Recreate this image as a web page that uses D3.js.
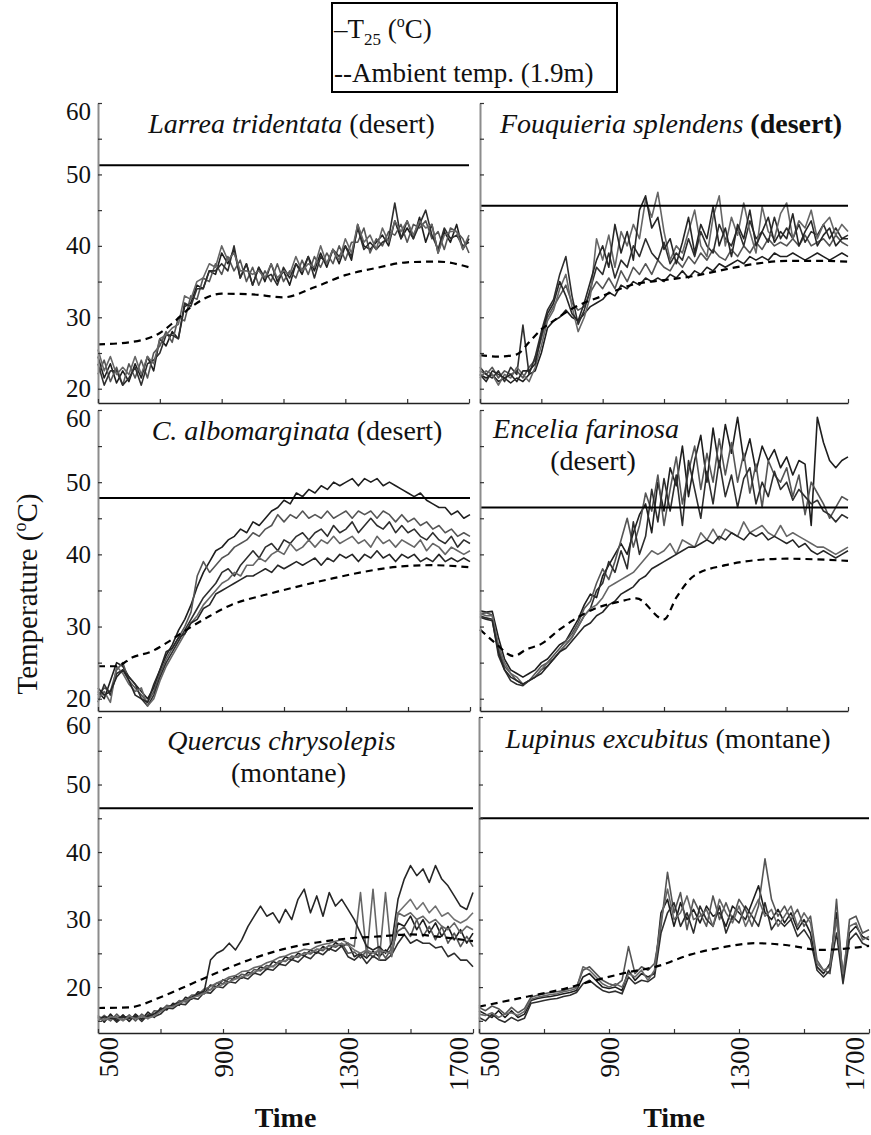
<!DOCTYPE html>
<html>
<head>
<meta charset="utf-8">
<script src="https://cdn.jsdelivr.net/npm/d3@7"></script>
<style>
  body { margin: 0; background: #fff; }
  svg { display: block; }
  text { font-family: "Liberation Serif", "DejaVu Serif", serif; fill: #111; }
</style>
</head>
<body>
<svg width="871" height="1135"></svg>
<script>
// time of day (hhmm), one reading every 20 min
var times = [500,520,540,560,580,600,620,640,660,680,
  700,720,740,760,780,800,820,840,860,880,
  900,920,940,960,980,1000,1020,1040,1060,1080,
  1100,1120,1140,1160,1180,1200,1220,1240,1260,1280,
  1300,1320,1340,1360,1380,1400,1420,1440,1460,1480,
  1500,1520,1540,1560,1580,1600,1620,1640,1660,1680,1700];

// T25 leaf temperatures, one array per leaf
var larrea = [
  [24.5,21.5,23.5,20.8,22.5,21,23.5,21.5,24.5,22.5, 27,26,28,27,31.5,32,34.5,34,36.5,36,
   39,37.5,39.5,35.5,37.5,34.5,37,35,37.5,35, 36.5,34.5,37.5,36,38.5,36.5,39,37,39.5,37.5,
   40,38,43,40,39.5,40.5,41.5,40,43.5,41, 42.5,41,44,40.5,43,39,42,40.5,43,39.5, 41],
  [22,24,21,23,20.5,23.5,21.5,24,21.5,25, 26,28,26.5,30,29.5,33,32.5,35.5,35,37.5,
   36,38.5,36.5,38,35,37,34.5,36.5,35,37.5, 35,36.5,35.5,38,36,38.5,37,39,37.5,40,
   38,40.5,40.5,42.5,39,41,40,42,41.5,43, 40.5,43,42.5,43.5,41,42,39.5,42.5,42,41, 39],
  [23.5,20.5,22.5,22.5,20.5,21.5,23,20.5,23.5,24, 25,27.5,27.5,27,32,31.5,34,34,36.5,36.5,
   37.5,36.5,40,35.5,37.5,34.5,37,35.5,36,34.5, 37,35.5,37.5,36.5,38.5,35.5,38.5,37.5,39.5,38.5,
   40,38.5,42.5,39.5,40.5,39.5,40.5,41,46,41, 43.5,41,43,45,41.5,39.5,42.5,41,41.5,40, 40.5],
  [25.5,22.5,24.5,22,23,22,24.5,22,24.5,23.5, 27,27.5,28.5,29,33,32.5,35,35.5,37.5,37,
   40,38,39,36.5,36.5,36,36.5,35.5,37.5,35.5, 36.5,36,38.5,36.5,37.5,37,40,37.5,39.5,38,
   41,39,43,40.5,41.5,39.5,42.5,40.5,43.5,42, 43.5,41.5,43.5,42.5,43,39,41.5,42,42,39.5, 41.5]
];
var fouquieria = [
  [22,21.5,22,21,21.5,20.8,21.5,21,22,22.5, 25,28.5,29.5,30,31,30,29.5,30.5,31.5,32,
   32.5,33.5,33,34.5,34,35,34.5,35.5,35,35.5, 35,36,35.5,36.5,35.5,36.5,36,37,36.5,37.5,
   37,37.5,38,37.5,38.5,38,38.5,38,39,38.5, 38.5,39,38.5,38,38.5,39,38.5,38,38.5,39, 38.5],
  [22.5,22,23,21.5,22.5,22,22.5,21.5,23,24, 27,30,31.5,33,34.5,32,31,31.5,33.5,35,
   34,35.5,34,36.5,35,37,36,37.5,36,38, 37,36.5,38,37,38.5,37.5,39,38,39.5,38.5,
   38,39.5,38.5,40,39,40.5,39.5,41,40,40.5, 40,41,40,41.5,40,40.5,41,40,41.5,40.5, 40],
  [23,22,21.5,22.5,21,23,22,28.9,22,24.5, 28,31,32.5,36,38.5,33,29,31,34,37,
   36,39,35.5,38,37,40,38.5,41,39,38, 40.5,37.5,39,38,41,38.5,42,40,39,43,
   41,40,42.5,40,43.5,41,42,40.5,44,41, 42.5,41,43,40.5,42,41.5,43,41,42.5,41, 41.5],
  [21.5,22.5,22,20.5,22,21.5,23,22,21,23, 26,29.5,31,34,36,31.5,28,30,33,41,
   38,41.5,37,42,40,43,41,46.5,44,47.5, 42,38,40,39,42,45,40,38.5,44,47,
   40,44,41.5,46,42,39,45.5,42,41,44.5, 46,41,43.5,42.5,45,41,43,44,41.5,43, 42],
  [22,21,22.5,22,21.5,22,21,22.5,22.5,23.5, 27.5,30.5,32,35,33,30.5,29.5,32,35,38,
   40,37,43,39,42,38,45,47,42.5,44, 39.5,41,37.5,40.5,44,39,43,41,45.5,40,
   42.5,38.5,43,41,45,40,42,44,40.5,42, 41,44.5,40,42,43.5,40,41.5,42.5,40,41, 41]
];
var albomarginata = [
  [21,20,22.5,25,24.5,23,22,21,20,21.5, 24,26,27.5,29.5,31,33,35.5,37.5,39,40.5,
   41,42,42.5,43.5,43,44.5,44,45,46,46.5, 47.5,47,48.5,48,49,48.5,49.5,49,50,49.5,
   50,50.5,49.5,50.5,50,50.5,49.5,50,49.5,49, 48.5,48,48.5,47.5,47,46.5,46.5,45.5,46,45, 45.5],
  [20.5,21.5,21,24,25,22.5,21.5,20.5,19.5,21, 23.5,25.5,27,28.5,30,32,37,39,37.5,38.5,
   39.5,40,41,41.5,42,43,42.5,43.5,44,45.5, 44.5,45.5,45,46,45,45.5,45,46,45,45.5,
   46,45,46,45.5,46,45,46,45.5,44.5,45.5, 44.5,45,44,44.5,43.5,44,43,43.5,42.5,43, 42.5],
  [19.5,22,20.5,23.5,24,23,22,20,19,20.5, 23,25,26.5,28,29.5,31,32.5,34,35,36,
   37.5,38,37,38.5,39.5,40.5,39.5,41,41.5,40.5, 42,41.5,42.5,43,42,43,43.5,42.5,44,43,
   43.5,44.5,43,44,45,44,43.5,44.5,43,44, 43,43.5,42.5,42,43,42,41.5,42.5,41,42, 41.5],
  [20,21,19.5,24.5,23.5,22,21,21.5,19,20, 22.5,24.5,26,27.5,29,30.5,31.5,33,34,35,
   36,36.5,37.5,37,38.5,38.5,39.5,39,40,40.5, 40,41.5,40.5,41,42,41,42,41.5,42.5,41.5,
   42,42.5,41.5,42,41,42.5,41.5,42,41,42, 41.5,41,42,40.5,41.5,41,40,41,40.5,40, 40.5],
  [21.5,20.5,21,23,24,22.5,20.5,20,19.5,22, 24,26.5,27,28.5,29,30.5,31,32.5,33,34.5,
   35,35.5,36,36.5,37,37,37.5,38,37.5,38.5, 38,38.5,39,38.5,39,39.5,38.5,39.5,39,40,
   39.5,40,39,40,39.5,40.5,39.5,40,39,40, 39.5,40,39,39.5,39,40,39,39.5,39,39.5, 39]
];
var encelia = [
  [32.2,32,32.1,28.5,25.5,24,23.5,23,23.5,24, 25,25.5,26.5,27.5,28,29.5,31,33,34.5,34,
   37,38.5,40,41.5,40,43,45.5,47,43,50, 46,52,49.5,55,48,53,56.5,50,57.5,52,
   58,54,59,53,56,51.5,55,53,54.5,52, 53.5,51,53,52.5,44,59,55.5,53,52,53, 53.5],
  [31.8,31.9,31.6,27,24.5,23.5,22.5,22,22.5,23.5, 24.5,25,26,27,28,29,30.5,32.5,33.5,36,
   38,36.5,39,42,45,41,44,48.5,46,51, 44,49,53.5,47,51.5,55,49,54,50,56,
   51,55.5,50,54,48.5,52.5,46.5,53,51,50, 52,48,51,45.5,50,48.5,47,45,46.5,48, 47.5],
  [31.5,31.2,31,26,24,22.5,22,21.8,22.5,23, 24,24.5,25.5,26.5,27.5,28.5,30,31.5,32.5,35,
   36,39,37.5,40.5,38,44.5,40,42.5,49,44.5, 50.5,46,51,44,53,49,45,51.5,47,53,
   48,51,46.5,50.5,52,47,50,48,51.5,49, 50,47.5,49,48,47,47.5,46,45.5,44.5,45.5, 45],
  [31.8,31.5,31.5,27.5,25,23.5,23,22,22.5,23, 24,25,25.5,26.5,27.5,28.5,30,31.5,32.5,33,
   34,35.5,36,36.5,37,37.5,38.5,39.5,40.5,40, 40.5,41.5,40,42,41.5,41,43,42,43.5,42,
   43.5,43,42.5,44.5,43,43.5,44,43,42.5,44, 42.5,43,42.5,42,41.5,41,41,40.5,40,40.5, 41],
  [31.3,31,30.8,26.5,24,23,22.5,22,22.5,23, 23.5,24.5,25.5,26.5,27,28,29,30,30.5,31.5,
   32,33,33.5,34.5,35,35.5,36.5,37,38,38.5, 39,39.5,40,40.5,41,41,41.5,42,41.5,42.5,
   42,43,42.5,42,43,42.5,43,42,42.5,42, 41.5,42,41,41.5,40.5,40,40.5,40,39.5,40, 40.5]
];
var quercus = [
  [15.8,14.8,16,15,15.9,14.9,16,15.2,16.3,15.5, 16.9,16.6,17.6,17.3,18.5,18.2,19.3,19,20.3,20,
   21.1,20.7,21.6,21.3,22.2,22,23,22.6,23.8,23.4, 24.5,24,25,24.6,25.5,25,26,25.5,26.6,26,
   26.5,24.5,25,24.3,25.3,24.5,25.5,24.8,29.5,29, 30.5,28.5,30,28,29.5,27.5,29,27,28.5,26.5, 28],
  [15,15.8,15,16,15.1,15.9,15,16,15.3,16.5, 16.4,17.3,17.1,18,17.8,18.8,18.7,19.7,19.6,20.6,
   20.5,21.3,21.2,21.9,21.7,22.6,22.4,23.2,23,23.9, 23.8,24.6,24.4,25.1,24.9,25.6,25.4,26.2,25.9,26.5,
   25,25.2,24.3,25.4,24.4,25.7,24.3,25.8,28.3,28.9, 27.5,30,27.5,29,27,29,26.5,28,26,27.5, 26],
  [15.6,15,15.7,14.8,15.6,15,15.8,14.9,15.9,15.6, 16,16.9,16.8,17.5,17.4,18.4,18.2,19.2,19.1,20.1,
   19.9,20.8,20.6,21.5,21.2,22.1,21.8,22.7,22.5,23.4, 23.2,24.1,23.7,24.6,24.2,25.2,24.8,25.7,25.3,26.1,
   24.5,24,24.8,23.5,24.6,24,24,24.8,26.5,27.8, 26.5,27,26.5,26.5,25.8,26,24.5,25,24,24, 23],
  [15.6,15.4,15.1,15.6,15.2,15.5,15.4,15.7,15.5,16.1, 16.6,17.1,17.3,17.9,18.1,18.8,18.9,19.7,20.1,20.6,
   21,21.5,21.7,22.3,22.4,22.9,23.1,23.6,23.9,24.4, 24.6,25,25.2,25.6,25.5,26,26.3,26.5,26.8,27,
   26.5,26,34,24.5,34.5,24,34,24.5,31,30.5, 31,30,30.5,29.5,30,29,28.5,29.5,28,29, 28.5],
  [15.2,15.6,15.4,15.3,15.7,15.4,15.6,15.3,15.7,16, 16.7,16.9,17.4,17.7,18.1,18.5,19,19.4,24,25,
   25.5,26.5,25.5,27,29,30.5,32,30.5,31,29.5, 31.5,30,33,34.5,31,33.5,30.5,34,32,33,
   31.5,30,28,26,25.5,26,25,26.5,33,36, 38,36.5,37.5,35.5,38,36,35,33.5,32,31.5, 34],
  [15.4,15.1,15.6,15.5,15,15.7,15.3,15.6,15.4,15.7, 16.4,17,17.1,17.6,18,18.4,18.7,19.1,19.6,20,
   20.4,20.8,21.2,21.5,21.8,22.2,22.6,22.9,23.1,23.7, 23.9,24.4,24.6,24.9,25.1,25.6,25.6,26.1,26.2,26.4,
   26.2,25.5,25,25.5,25,25.5,25.2,25,31,32, 33,31.5,32.5,31,32,30.5,31,30,29.5,30, 31]
];
var lupinus = [
  [16.5,16,15.5,16.5,15.5,16.5,15.5,16,18,18.3, 18.5,18.6,18.8,19,19.2,19.5,21.5,22,21,20,
   19.8,20,19.5,22.5,21,22,21.5,22,31,33, 29,32.5,30,31.5,29.5,32,30.5,31,29,32,
   31,30,32.5,35,31,30,31.5,29.5,31,28.5, 30,28,23,22,23.5,31,21.5,28,29,27.5, 27],
  [17,16.5,17.2,16.8,16,17,16.2,16.8,18.5,18.8, 19,19.2,19.3,19.5,19.8,20,22.5,23,22,21,
   20.5,20.2,21,26,22,23,22.5,23.5,29,37, 31,34,28.5,33,31,29,33.5,30,32.5,30,
   33,31.5,29,32,39,33,30.5,32,30,31.5, 29,30.5,24,22.5,22,33,21,30,30.5,28, 28.5],
  [15.5,15,16,15.2,14.8,15.5,15,15.4,17.6,17.8, 18,18.2,18.3,18.6,18.8,19.2,20.5,21,20.2,19.5,
   19.2,19.4,19,21.5,20.5,21,20.8,21.5,28,31, 32.5,29,31,28,32,30,29,32,28,30.5,
   29.5,32,30.5,29,32.5,28.5,30,29,30,27.5, 28.5,27,22.5,21.5,22.5,28,20.5,27,28,26.5, 26],
  [16,15.8,16.2,15.5,16,16.2,15.8,16.4,18.2,18.5, 18.7,18.9,19,19.3,19.5,19.8,23,22.5,21.5,20.5,
   20,20.5,20,22,21.5,22.5,21,22.5,30,34.5, 30,31,33.5,30,30.5,31.5,29,33,31,29.5,
   32,29,31,33,30.5,31.5,29,30.5,32,29, 31,29.5,23.5,22.5,23,30,22,29,29.5,27, 27.5]
];

// ambient temperature at 1.9 m
var larreaAmbTimes = [500,600,700,750,800,900,1000,1100,1200,1300,1400,1500,1600,1700];
var larreaAmb = [26.2,26.5,27.8,29.5,31.4,33.3,33.2,32.8,34.2,35.9,36.9,37.7,37.8,37.0];
var fouquieriaAmbTimes = [500,560,620,660,700,740,800,900,1000,1100,1200,1300,1400,1500,1600,1700];
var fouquieriaAmb = [24.7,24.5,24.8,26.5,28.3,29.5,31.2,33,34.6,35.2,35.8,36.7,37.5,37.9,37.9,37.8];
var albomarginataAmbTimes = [500,560,610,675,720,780,850,930,1040,1150,1260,1360,1470,1580,1700];
var albomarginataAmb = [24.5,24.5,25.7,26.6,27.7,29.4,31.2,33,34.4,35.6,36.7,37.6,38.3,38.5,38.2];
var enceliaAmbTimes = [500,550,610,650,700,760,870,950,1010,1100,1140,1200,1300,1400,1500,1600,1700];
var enceliaAmb = [29.6,27.7,25.9,26.8,27.6,29.6,32.4,33.4,33.9,31.0,34.0,37.1,38.5,39.2,39.4,39.3,39.1];
var quercusAmbTimes = [500,600,700,800,900,1000,1100,1200,1300,1400,1500,1600,1700];
var quercusAmb = [16.9,17.0,18.5,20.5,22.5,24.3,25.7,26.6,27.2,27.5,27.8,27.4,26.8];
var lupinusAmbTimes = [500,650,750,850,950,1050,1150,1250,1350,1450,1550,1650,1700];
var lupinusAmb = [17.1,18.6,19.6,20.9,22.1,23.1,24.8,25.9,26.5,26.2,25.5,25.8,26.1];

// horizontal reference line per species
var thresholds = [51.3, 45.6, 47.8, 46.5, 46.5, 45.0];

var speciesNames = ["Larrea tridentata", "Fouquieria splendens", "C. albomarginata",
  "Encelia farinosa", "Quercus chrysolepis", "Lupinus excubitus"];
var habitats = ["(desert)", "(desert)", "(desert)", "(desert)", "(montane)", "(montane)"];

var xTicks = [500, 700, 900, 1100, 1300, 1500, 1700];
var xLabels = [500, 900, 1300, 1700];

var t25 = [larrea, fouquieria, albomarginata, encelia, quercus, lupinus];
var ambTimes = [larreaAmbTimes, fouquieriaAmbTimes, albomarginataAmbTimes, enceliaAmbTimes, quercusAmbTimes, lupinusAmbTimes];
var amb = [larreaAmb, fouquieriaAmb, albomarginataAmb, enceliaAmb, quercusAmb, lupinusAmb];

var svg = d3.select("svg");

// panel boxes; title offset from panel centre / top
var panels = [
  {x0: 98,  x1: 469, y0: 103, y1: 403, lo: 18.0, tdx: 8,   tdy: 30, split: false},
  {x0: 480, x1: 848, y0: 103, y1: 403, lo: 18.0, tdx: 7,   tdy: 30, split: false, bold: true},
  {x0: 98,  x1: 470, y0: 410, y1: 711, lo: 18.3, tdx: 13,  tdy: 30, split: false},
  {x0: 480, x1: 848, y0: 410, y1: 711, lo: 18.3, tdx: -78, tdy: 28, split: true},
  {x0: 98,  x1: 473, y0: 717, y1: 1033, lo: 13.2, tdx: -4, tdy: 33, split: true},
  {x0: 479, x1: 869, y0: 717, y1: 1033, lo: 13.2, tdx: -6, tdy: 31, split: false}
];

var grays = ["#1e1e1e", "#555", "#2e2e2e", "#666", "#262626", "#707070"];

panels.forEach(function(p, i) {
  var x = d3.scaleLinear().domain([500, 1700]).range([p.x0, p.x1]);
  var y = d3.scaleLinear().domain([p.lo, 60]).range([p.y1, p.y0]);
  var g = svg.append("g");
  var isLeft = i % 2 === 0, isBottom = i >= 4;

  //leaf temperature traces
  var line = d3.line()
    .x(function(d, j) { return x(times[j]); })
    .y(function(d) { return y(d); });
  g.selectAll("path.t25")
    .data(t25[i])
    .enter().append("path")
      .attr("class", "t25")
      .attr("d", line)
      .attr("fill", "none")
      .attr("stroke", function(d, k) { return grays[k % grays.length]; })
      .attr("stroke-width", 1.6)
      .attr("stroke-linejoin", "round");

  //ambient air
  var ambLine = d3.line()
    .x(function(d) { return x(d[0]); })
    .y(function(d) { return y(d[1]); })
    .curve(d3.curveMonotoneX);
  g.append("path")
    .attr("d", ambLine(d3.zip(ambTimes[i], amb[i])))
    .attr("fill", "none")
    .attr("stroke", "#000")
    .attr("stroke-width", 2.2)
    .attr("stroke-dasharray", "7,5");

  //threshold
  g.append("line")
    .attr("x1", x(500)).attr("x2", x(1700))
    .attr("y1", y(thresholds[i])).attr("y2", y(thresholds[i]))
    .attr("stroke", "#000")
    .attr("stroke-width", 2);

  //axes
  var yTicks = d3.range(p.lo > 15 ? 20 : 15, 61, 5);
  var yAxis = d3.axisLeft(y)
    .tickValues(yTicks)
    .tickSizeInner(-4).tickSizeOuter(0).tickPadding(7)
    .tickFormat(function(d) { return isLeft && d % 10 === 0 ? d : ""; });
  var ya = g.append("g")
    .attr("transform", "translate(" + p.x0 + ",0)")
    .call(yAxis);
  ya.select(".domain").attr("stroke", "#8c8c8c").attr("stroke-width", 2);
  ya.selectAll(".tick line").attr("stroke", "#333").attr("stroke-width", 1.2);
  ya.selectAll(".tick text")
    .attr("font-size", 25)
    .attr("font-family", "Liberation Serif")
    .attr("fill", "#111")
    .attr("dy", function(d) { return d === 60 ? "0.66em" : "0.32em"; });

  var xAxis = d3.axisBottom(x)
    .tickValues(xTicks)
    .tickSizeInner(-4).tickSizeOuter(0)
    .tickFormat(function(d) { return isBottom && xLabels.indexOf(d) >= 0 ? d : ""; });
  var xa = g.append("g")
    .attr("transform", "translate(0," + p.y1 + ")")
    .call(xAxis);
  xa.select(".domain").attr("stroke", "#222").attr("stroke-width", 1.6);
  xa.selectAll(".tick line").attr("stroke", "#333").attr("stroke-width", 1.2);
  xa.selectAll(".tick text")
    .attr("font-size", 27)
    .attr("font-family", "Liberation Serif")
    .attr("fill", "#111")
    .attr("transform", "rotate(-90)")
    .attr("text-anchor", "end")
    .attr("x", -4)
    .attr("dy", 0)
    .attr("y", function(d) { return d === 500 ? 19 : d === 1700 ? -6 : 9; });

  //title
  var cx = (p.x0 + p.x1) / 2 + p.tdx;
  var t = g.append("text")
    .attr("x", cx).attr("y", p.y0 + p.tdy)
    .attr("text-anchor", "middle")
    .attr("font-size", 28);
  t.append("tspan").attr("font-style", "italic").text(speciesNames[i]);
  if (p.split) {
    g.append("text")
      .attr("x", cx + 7).attr("y", p.y0 + p.tdy + 32)
      .attr("text-anchor", "middle")
      .attr("font-size", 28)
      .text(habitats[i]);
  } else {
    t.append("tspan")
      .attr("font-weight", p.bold ? "bold" : "normal")
      .text(" " + habitats[i]);
  }

  if (isBottom) {
    svg.append("text")
      .attr("x", (p.x0 + p.x1) / 2).attr("y", 1127)
      .attr("text-anchor", "middle")
      .attr("font-size", 28)
      .attr("font-weight", "bold")
      .text("Time");
  }
});

//y label
var yl = svg.append("text")
  .attr("transform", "translate(37,594) rotate(-90)")
  .attr("text-anchor", "middle")
  .attr("font-size", 29);
yl.append("tspan").text("Temperature (");
yl.append("tspan").attr("font-size", 18).attr("dy", -11).text("o");
yl.append("tspan").attr("dy", 11).text("C)");

//legend
var lg = svg.append("g");
lg.append("rect")
  .attr("x", 332).attr("y", 3).attr("width", 285).attr("height", 89)
  .attr("fill", "#fff").attr("stroke", "#000").attr("stroke-width", 2);
var l1 = lg.append("text").attr("x", 334).attr("y", 38).attr("font-size", 27);
l1.append("tspan").text("\u2013T");
l1.append("tspan").attr("font-size", 17).attr("dy", 7).text("25");
l1.append("tspan").attr("dy", -7).text(" (");
l1.append("tspan").attr("font-size", 16).attr("dy", -11).text("o");
l1.append("tspan").attr("dy", 11).text("C)");
lg.append("text").attr("x", 334).attr("y", 82).attr("font-size", 27)
  .text("--Ambient temp. (1.9m)");
</script>
</body>
</html>
